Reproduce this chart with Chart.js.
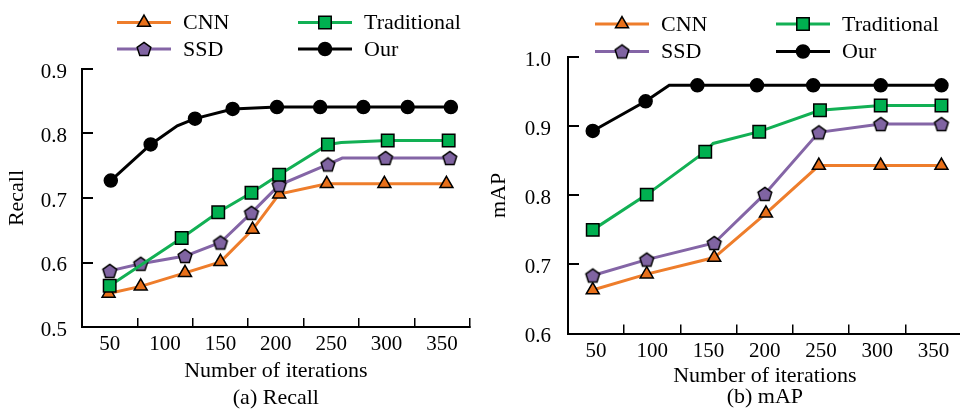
<!DOCTYPE html>
<html>
<head>
<meta charset="utf-8">
<title>Recall / mAP vs iterations</title>
<script src="https://cdn.jsdelivr.net/npm/chart.js@4.4.1/dist/chart.umd.min.js"></script>
<style>
  html, body { margin: 0; padding: 0; background: #fff; }
  .row { display: flex; width: 960px; height: 415px; }
  .panel { width: 480px; height: 415px; overflow: hidden; }
</style>
</head>
<body>
<div class="row">
  <div class="panel"><canvas id="recallChart" width="480" height="415"></canvas></div>
  <div class="panel"><canvas id="mapChart" width="492" height="415"></canvas></div>
</div>
<script>
// tick labels
const iterationTicks = [50, 100, 150, 200, 250, 300, 350];
const recallTicks = [0.5, 0.6, 0.7, 0.8, 0.9];
const mapTicks = [0.6, 0.7, 0.8, 0.9, 1.0];

// (a) Recall, x = where each marker sits along the iteration axis
const recallCnnX = [49, 78, 118, 150, 179, 203, 246, 298, 354];
const recallCnnY = [0.552, 0.563, 0.584, 0.601, 0.651, 0.706, 0.722, 0.722, 0.722];
const recallTradX = [50, 115, 148, 178, 203, 247, 259, 301, 356];
const recallTradY = [0.564, 0.638, 0.678, 0.708, 0.736, 0.783, 0.786, 0.789, 0.789];
const recallSsdX = [50, 78, 118, 150, 178, 203, 247, 260, 299, 357];
const recallSsdY = [0.587, 0.598, 0.610, 0.631, 0.677, 0.720, 0.752, 0.762, 0.762, 0.762];
const recallOurX = [51, 87, 111, 127, 161, 201, 240, 279, 319, 358];
const recallOurY = [0.727, 0.783, 0.812, 0.823, 0.838, 0.841, 0.841, 0.841, 0.841, 0.841];

// (b) mAP
const mapCnnX = [47, 95, 155, 201, 248, 303, 357];
const mapCnnY = [0.663, 0.686, 0.710, 0.774, 0.843, 0.843, 0.843];
const mapTradX = [47, 95, 147, 154, 195, 249, 303, 357];
const mapTradY = [0.750, 0.801, 0.863, 0.875, 0.892, 0.923, 0.930, 0.930];
const mapSsdX = [47, 95, 155, 200, 248, 303, 357];
const mapSsdY = [0.684, 0.707, 0.731, 0.802, 0.891, 0.903, 0.903];
const mapOurX = [47, 94, 115, 140, 193, 243, 303, 357];
const mapOurY = [0.893, 0.936, 0.959, 0.959, 0.959, 0.959, 0.959, 0.959];

// bends in the drawn lines that have no marker on them (indexes into the arrays above)
const recallTradBends = [6];
const recallSsdBends = [7];
const recallOurBends = [2];
const mapTradBends = [3];
const mapOurBends = [2];

Chart.defaults.font.family = '"Liberation Serif", "Times New Roman", serif';
Chart.defaults.color = '#000';

// no pentagon in chart.js, so make one
function makePentagon(fill) {
  const c = document.createElement('canvas');
  c.width = 18; c.height = 18;
  const g = c.getContext('2d');
  const R = 7.2;
  g.beginPath();
  for (let k = 0; k < 5; k++) {
    const a = -Math.PI / 2 + k * 2 * Math.PI / 5;
    const px = 9 + R * Math.cos(a), py = 9.6 + R * Math.sin(a);
    if (k === 0) g.moveTo(px, py); else g.lineTo(px, py);
  }
  g.closePath();
  g.fillStyle = fill;
  g.fill();
  g.lineWidth = 1.5;
  g.strokeStyle = '#000';
  g.stroke();
  return c;
}

const styles = {
  CNN: { color: '#EE7D2B', fill: '#E8701A', pointStyle: 'triangle', radius: 7.5 },
  Traditional: { color: '#12B054', fill: '#00B050', pointStyle: 'rect', radius: 8.8 },
  SSD: { color: '#8465A6', fill: '#8064A2', pointStyle: makePentagon('#8064A2'), radius: 7 },
  Our: { color: '#000000', fill: '#000000', pointStyle: 'circle', radius: 6.5 }
};

function series(label, xs, ys, bends, order) {
  const s = styles[label];
  return {
    label: label,
    order: order,
    data: xs.map((x, i) => ({ x: x, y: ys[i] })),
    borderColor: s.color,
    borderWidth: 3,
    backgroundColor: s.fill,
    pointBackgroundColor: s.fill,
    pointBorderColor: '#000',
    pointBorderWidth: 1.5,
    pointStyle: s.pointStyle,
    pointRadius: ctx => bends.includes(ctx.dataIndex) ? 0 : s.radius,
    pointHoverRadius: ctx => bends.includes(ctx.dataIndex) ? 0 : s.radius,
    tension: 0,
    clip: false
  };
}

// two-column legend: CNN / Traditional on top row, SSD / Our below
const pairLegend = {
  id: 'pairLegend',
  afterDraw(chart, args, opts) {
    const ctx = chart.ctx;
    ctx.save();
    ctx.font = '22px "Liberation Serif", "Times New Roman", serif';
    ctx.textBaseline = 'middle';
    ctx.textAlign = 'left';
    chart.data.datasets.forEach((ds, i) => {
      const s = styles[ds.label];
      const x = opts.columns[i % 2];
      const y = opts.rows[Math.floor(i / 2)];
      ctx.strokeStyle = s.color;
      ctx.lineWidth = 3;
      ctx.beginPath();
      ctx.moveTo(x, y);
      ctx.lineTo(x + opts.lineLength, y);
      ctx.stroke();
      ctx.fillStyle = s.fill;
      ctx.strokeStyle = '#000';
      ctx.lineWidth = 1.5;
      Chart.helpers.drawPoint(ctx, { pointStyle: s.pointStyle, radius: s.radius, borderWidth: 1.5, rotation: 0 },
        x + opts.lineLength / 2, y);
      ctx.fillStyle = '#000';
      ctx.fillText(ds.label, x + opts.lineLength + opts.gap, y + 1);
    });
    ctx.restore();
  }
};

function makeChart(id, cfg) {
  return new Chart(document.getElementById(id), {
    type: 'line',
    data: { datasets: cfg.datasets },
    plugins: [pairLegend],
    options: {
      responsive: false,
      animation: false,
      layout: { padding: cfg.padding },
      plugins: {
        legend: { display: false },
        tooltip: { enabled: false },
        title: {
          display: true,
          text: cfg.caption,
          position: 'bottom',
          fullSize: false,
          font: { size: 22, weight: 'normal' },
          color: '#000',
          padding: { top: 0, bottom: cfg.captionPad }
        },
        pairLegend: cfg.legend
      },
      scales: {
        x: {
          type: 'linear',
          min: 25,
          max: 375,
          afterBuildTicks: s => { s.ticks = iterationTicks.map(v => ({ value: v })); },
          afterFit: s => { s.height = cfg.xHeight; },
          grid: { offset: true, drawOnChartArea: false, drawTicks: true, tickLength: -9, color: '#000', lineWidth: 1.5 },
          border: { display: true, color: '#000', width: 2 },
          ticks: { padding: 14, font: { size: 21 }, color: '#000', maxRotation: 0, autoSkip: false },
          title: {
            display: true,
            text: 'Number of iterations',
            font: { size: 22 },
            color: '#000',
            padding: { top: 0, bottom: cfg.xTitlePad }
          }
        },
        y: {
          type: 'linear',
          min: cfg.yTicks[0],
          max: cfg.yTicks[cfg.yTicks.length - 1],
          afterBuildTicks: s => { s.ticks = cfg.yTicks.map(v => ({ value: v })); },
          afterFit: s => { s.width = cfg.yWidth; },
          grid: { drawOnChartArea: false, drawTicks: true, tickLength: -11, color: '#000', lineWidth: 2 },
          border: { display: true, color: '#000', width: 2 },
          ticks: { padding: cfg.yLabelPad, labelOffset: 3, font: { size: 21 }, color: '#000',
            callback: v => v.toFixed(1) },
          title: {
            display: true,
            text: cfg.yTitle,
            font: { size: 22 },
            color: '#000',
            padding: { top: cfg.yTitlePad, bottom: 0 }
          }
        }
      }
    }
  });
}

makeChart('recallChart', {
  datasets: [
    series('CNN', recallCnnX, recallCnnY, [], 2),
    series('Traditional', recallTradX, recallTradY, recallTradBends, 0),
    series('SSD', recallSsdX, recallSsdY, recallSsdBends, 1),
    series('Our', recallOurX, recallOurY, recallOurBends, 3)
  ],
  yTicks: recallTicks,
  yTitle: 'Recall',
  caption: '(a) Recall',
  padding: { top: 69, right: 1, bottom: 0, left: 0 },
  xHeight: 57.6,
  captionPad: 4,
  xTitlePad: 0,
  yWidth: 82,
  yLabelPad: 26,
  yTitlePad: 4,
  legend: { columns: [117, 298], rows: [22.5, 49], lineLength: 54, gap: 12 }
});

makeChart('mapChart', {
  datasets: [
    series('CNN', mapCnnX, mapCnnY, [], 2),
    series('Traditional', mapTradX, mapTradY, mapTradBends, 0),
    series('SSD', mapSsdX, mapSsdY, [], 1),
    series('Our', mapOurX, mapOurY, mapOurBends, 3)
  ],
  yTicks: mapTicks,
  yTitle: 'mAP',
  caption: '(b) mAP',
  padding: { top: 57, right: 7, bottom: 0, left: 0 },
  xHeight: 50,
  captionPad: 5,
  xTitlePad: -6,
  yWidth: 88,
  yLabelPad: 28,
  yTitlePad: 6,
  legend: { columns: [115, 296], rows: [24, 51.5], lineLength: 54, gap: 12 }
});
</script>
</body>
</html>
